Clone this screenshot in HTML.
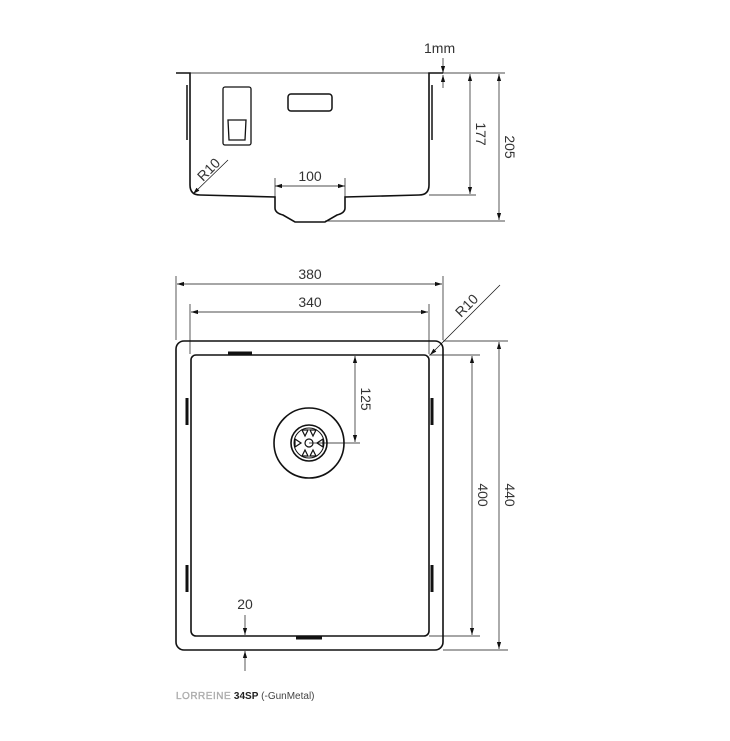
<!DOCTYPE html>
<html><head><style>body{margin:0;background:#fff}svg{display:block}text{font-family:"Liberation Sans",sans-serif;fill:#333}</style></head>
<body>
<svg width="730" height="741" viewBox="0 0 730 741" xmlns="http://www.w3.org/2000/svg">
<defs>
<marker id="a" viewBox="0 0 10 10" refX="10" refY="5" markerWidth="10" markerHeight="10" orient="auto-start-reverse"><path d="M0,2 L10,5 L0,8 z" fill="#111"/></marker>
</defs>
<g fill="none" stroke="#111">
<path d="M176,73 H190 V185 Q190,195 200,195 L275,197 V208 Q275,213 283,215 L295,222 H325 L337,215 Q345,213 345,208 V197 L419,195 Q429,195 429,185 V73 H443" stroke-width="1.6"/>
<line x1="190" y1="73" x2="429" y2="73" stroke-width="0.8"/>
<line x1="187" y1="85" x2="187" y2="140" stroke-width="1.5"/>
<line x1="432" y1="85" x2="432" y2="140" stroke-width="1.5"/>
<rect x="223" y="87" width="28" height="58" rx="2" stroke-width="1.3"/>
<path d="M228,120 H246 L245,140 H229 Z" stroke-width="1.3"/>
<rect x="288" y="94" width="44" height="17" rx="3" stroke-width="1.5"/>
<g stroke-width="0.7">
<line x1="443" y1="73" x2="505" y2="73"/>
<line x1="429" y1="195" x2="476" y2="195"/>
<line x1="325" y1="221" x2="505" y2="221"/>
<line x1="275" y1="178" x2="275" y2="197"/>
<line x1="345" y1="178" x2="345" y2="197"/>
<line x1="275" y1="186" x2="345" y2="186" marker-start="url(#a)" marker-end="url(#a)"/>
<line x1="470" y1="74" x2="470" y2="194" marker-start="url(#a)" marker-end="url(#a)"/>
<line x1="499" y1="74" x2="499" y2="220" marker-start="url(#a)" marker-end="url(#a)"/>
<line x1="443" y1="58" x2="443" y2="73" marker-end="url(#a)"/>
<line x1="443" y1="88" x2="443" y2="75" marker-end="url(#a)"/>
<line x1="228" y1="160" x2="193" y2="194" marker-end="url(#a)"/>
</g>
<rect x="176" y="341" width="267" height="309" rx="8" stroke-width="1.6"/>
<rect x="191" y="355" width="238" height="281" rx="5" stroke-width="1.6"/>
<line x1="187" y1="398" x2="187" y2="425" stroke-width="3"/>
<line x1="432" y1="398" x2="432" y2="425" stroke-width="3"/>
<line x1="187" y1="565" x2="187" y2="592" stroke-width="3"/>
<line x1="432" y1="565" x2="432" y2="592" stroke-width="3"/>
<line x1="228" y1="353" x2="252" y2="353" stroke-width="3"/>
<line x1="296" y1="638" x2="322" y2="638" stroke-width="3"/>
<circle cx="309" cy="443" r="35" stroke-width="1.6"/>
<circle cx="309" cy="443" r="18" stroke-width="1.6"/>
<circle cx="309" cy="443" r="15" stroke-width="1"/>
<circle cx="309" cy="443" r="4" stroke-width="1.2"/>
<g stroke-width="1.2">
<path d="M305,436 L302,430 L308,430 Z"/><path d="M313,436 L316,430 L310,430 Z"/>
<path d="M305,450 L302,456 L308,456 Z"/><path d="M313,450 L316,456 L310,456 Z"/>
<path d="M301,443 L295,439 L295,447 Z"/><path d="M317,443 L323,439 L323,447 Z"/>
</g>
<g stroke-width="0.7">
<line x1="176" y1="276" x2="176" y2="340"/>
<line x1="443" y1="276" x2="443" y2="340"/>
<line x1="190" y1="304" x2="190" y2="354"/>
<line x1="429" y1="304" x2="429" y2="354"/>
<line x1="177" y1="284" x2="442" y2="284" marker-start="url(#a)" marker-end="url(#a)"/>
<line x1="191" y1="312" x2="428" y2="312" marker-start="url(#a)" marker-end="url(#a)"/>
<line x1="500" y1="285" x2="430" y2="355" marker-end="url(#a)"/>
<line x1="443" y1="341" x2="508" y2="341"/>
<line x1="429" y1="355" x2="480" y2="355"/>
<line x1="429" y1="636" x2="480" y2="636"/>
<line x1="443" y1="650" x2="508" y2="650"/>
<line x1="472" y1="356" x2="472" y2="635" marker-start="url(#a)" marker-end="url(#a)"/>
<line x1="499" y1="342" x2="499" y2="649" marker-start="url(#a)" marker-end="url(#a)"/>
<line x1="309" y1="443" x2="360" y2="443"/>
<line x1="355" y1="356" x2="355" y2="442" marker-start="url(#a)" marker-end="url(#a)"/>
<line x1="245" y1="615" x2="245" y2="635" marker-end="url(#a)"/>
<line x1="245" y1="671" x2="245" y2="651" marker-end="url(#a)"/>
</g>
</g>
<g font-size="14">
<text x="424" y="53">1mm</text>
<text x="310" y="181" text-anchor="middle">100</text>
<text transform="translate(203,182) rotate(-45)">R10</text>
<text transform="translate(476,134) rotate(90)" text-anchor="middle">177</text>
<text transform="translate(505,147) rotate(90)" text-anchor="middle">205</text>
<text x="310" y="279" text-anchor="middle">380</text>
<text x="310" y="307" text-anchor="middle">340</text>
<text transform="translate(461,318) rotate(-45)">R10</text>
<text transform="translate(361,399) rotate(90)" text-anchor="middle">125</text>
<text transform="translate(478,495) rotate(90)" text-anchor="middle">400</text>
<text transform="translate(505,495) rotate(90)" text-anchor="middle">440</text>
<text x="245" y="609" text-anchor="middle">20</text>
</g>
<text x="176" y="699" font-size="10"><tspan fill="#bbb" stroke="#999" stroke-width="0.3" letter-spacing="0.5">LORREINE</tspan> <tspan font-weight="bold" fill="#222">34SP</tspan> <tspan fill="#444">(-GunMetal)</tspan></text>
</svg>
</body></html>
